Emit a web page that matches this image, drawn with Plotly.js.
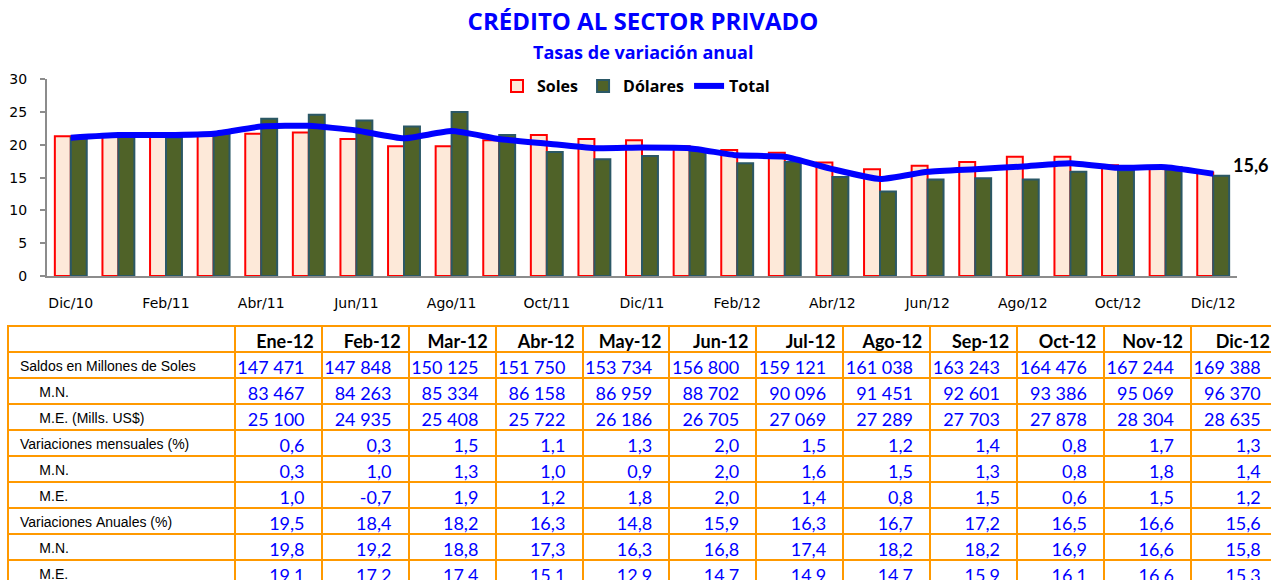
<!DOCTYPE html>
<html>
<head>
<meta charset="utf-8">
<script src="https://cdn.plot.ly/plotly-3.0.1.min.js"></script>
<style>
  html, body { margin: 0; padding: 0; overflow: hidden; background: #fff; }
  #chart { width: 1280px; height: 590px; }
</style>
</head>
<body>
<div id="chart"></div>
<script>
// ---- Chart data ----
const months = ['Dic/10','Ene/11','Feb/11','Mar/11','Abr/11','May/11','Jun/11','Jul/11','Ago/11','Sep/11','Oct/11','Nov/11','Dic/11',
                'Ene/12','Feb/12','Mar/12','Abr/12','May/12','Jun/12','Jul/12','Ago/12','Sep/12','Oct/12','Nov/12','Dic/12'];
const soles   = [21.3,21.3,21.3,21.4,21.7,21.9,20.9,19.8,19.8,20.7,21.5,20.9,20.7, 19.8,19.2,18.8,17.3,16.3,16.8,17.4,18.2,18.2,16.9,16.6,15.8];
const dolares = [21.1,21.6,21.1,21.9,24.0,24.6,23.7,22.8,25.0,21.5,18.9,17.8,18.3, 19.1,17.2,17.4,15.1,12.9,14.7,14.9,14.7,15.9,16.1,16.6,15.3];
const total   = [21.1,21.5,21.5,21.7,22.8,22.9,22.2,21.0,22.1,20.9,20.2,19.5,19.6, 19.5,18.4,18.2,16.3,14.8,15.9,16.3,16.7,17.2,16.5,16.6,15.6];
const lastLabel = '15,6';

// ---- Table data ----
const tableMonths = ['Ene-12','Feb-12','Mar-12','Abr-12','May-12','Jun-12','Jul-12','Ago-12','Sep-12','Oct-12','Nov-12','Dic-12'];
const rowLabels = ['Saldos en Millones de Soles','M.N.','M.E. (Mills. US$)','Variaciones mensuales (%)','M.N.','M.E.','Variaciones Anuales (%)','M.N.','M.E.'];
const saldos     = [147471,147848,150125,151750,153734,156800,159121,161038,163243,164476,167244,169388];
const saldosMN   = [83467,84263,85334,86158,86959,88702,90096,91451,92601,93386,95069,96370];
const saldosME   = [25100,24935,25408,25722,26186,26705,27069,27289,27703,27878,28304,28635];
const varMens    = [0.6,0.3,1.5,1.1,1.3,2.0,1.5,1.2,1.4,0.8,1.7,1.3];
const varMensMN  = [0.3,1.0,1.3,1.0,0.9,2.0,1.6,1.5,1.3,0.8,1.8,1.4];
const varMensME  = [1.0,-0.7,1.9,1.2,1.8,2.0,1.4,0.8,1.5,0.6,1.5,1.2];
const varAnual   = [19.5,18.4,18.2,16.3,14.8,15.9,16.3,16.7,17.2,16.5,16.6,15.6];
const varAnualMN = [19.8,19.2,18.8,17.3,16.3,16.8,17.4,18.2,18.2,16.9,16.6,15.8];
const varAnualME = [19.1,17.2,17.4,15.1,12.9,14.7,14.9,14.7,15.9,16.1,16.6,15.3];

// ---- helpers ----
const NB = '\u00a0';
const fmtInt = n => String(n).replace(/\B(?=(\d{3})+(?!\d))/g, NB);
const fmtPct = n => n.toFixed(1).replace('.', ',');
const W = 1280, H = 590;

const rowsData = [
  saldos.map(fmtInt), saldosMN.map(fmtInt), saldosME.map(fmtInt),
  varMens.map(fmtPct), varMensMN.map(fmtPct), varMensME.map(fmtPct),
  varAnual.map(fmtPct), varAnualMN.map(fmtPct), varAnualME.map(fmtPct)
];
const labelCol = rowLabels.map(l => (l.startsWith('M.') ? NB.repeat(6) : NB) + l.replace(/ /g, NB));
const cellValues = [labelCol].concat(tableMonths.map((m, j) => rowsData.map(r => r[j] + NB + NB)));

const gray = '#8c8c8c';
const tickBounds = [];
for (let i = 0; i < months.length - 1; i += 2) tickBounds.push(i - 0.5);

const titleFont = 'Open Sans, sans-serif';

const traces = [
  {
    type: 'bar', name: 'Soles', x: months, y: soles,
    marker: { color: '#fde9d9', line: { color: '#ff0000', width: 2 } },
    hoverinfo: 'skip'
  },
  {
    type: 'bar', name: 'Dólares', x: months, y: dolares,
    marker: { color: '#4f6228', line: { color: '#2b5866', width: 2 } },
    hoverinfo: 'skip'
  },
  {
    type: 'scatter', mode: 'lines', name: 'Total', x: months, y: total,
    line: { color: '#0000ff', width: 6, shape: 'spline', smoothing: 0.5 },
    hoverinfo: 'skip'
  },
  {
    type: 'table',
    domain: { x: [8 / W, 1278 / W], y: [0, (H - 326) / H] },
    columnwidth: [227].concat(tableMonths.map(() => 87)),
    header: {
      values: [''].concat(tableMonths),
      align: 'right',
      height: 26,
      fill: { color: '#ffffff' },
      line: { color: '#ff9900', width: 2 },
      font: { family: 'Lato, sans-serif', size: 18, color: '#000000', weight: 'bold' }
    },
    cells: {
      values: cellValues,
      align: ['left'].concat(tableMonths.map(() => 'right')),
      height: 26,
      fill: { color: '#ffffff' },
      line: { color: '#ff9900', width: 2 },
      font: {
        family: ['Liberation Sans, Arial, sans-serif'].concat(tableMonths.map(() => 'Lato, sans-serif')),
        size: [14].concat(tableMonths.map(() => 18)),
        color: ['#000000'].concat(tableMonths.map(() => '#0000ff'))
      }
    }
  }
];

const layout = {
  width: W, height: H,
  margin: { l: 0, r: 0, t: 0, b: 0 },
  paper_bgcolor: '#ffffff', plot_bgcolor: '#ffffff',
  showlegend: true,
  barmode: 'group', bargap: 0.33, bargroupgap: 0,
  title: {
    text: 'CRÉDITO AL SECTOR PRIVADO',
    x: 643 / W, xanchor: 'center', xref: 'paper',
    y: 1 - 22 / H, yanchor: 'middle', yref: 'container',
    font: { family: titleFont, size: 24, color: '#0000ff', weight: 'bold' }
  },
  annotations: [
    {
      text: 'Tasas de variación anual', xref: 'paper', yref: 'paper',
      x: 643 / W, y: 1 - 52 / H, xanchor: 'center', yanchor: 'middle', showarrow: false,
      font: { family: titleFont, size: 18, color: '#0000ff', weight: 'bold' }
    },
    {
      text: lastLabel, xref: 'x', yref: 'y', x: months[months.length - 1], y: total[total.length - 1],
      xanchor: 'left', yanchor: 'middle', xshift: 18, yshift: 9, showarrow: false,
      font: { family: 'Lato, sans-serif', size: 18, color: '#000000', weight: 'bold' }
    }
  ],
  legend: {
    orientation: 'h', x: 636 / W, xanchor: 'center', y: 1 - 86 / H, yanchor: 'middle',
    font: { family: titleFont, size: 16, color: '#000000', weight: 'bold' },
    bgcolor: 'rgba(0,0,0,0)', itemwidth: 30, tracegroupgap: 0
  },
  xaxis: {
    type: 'category', categoryorder: 'array', categoryarray: months,
    domain: [47 / W, 1237 / W], range: [-0.5, months.length - 0.5],
    dtick: 2, ticks: '', showgrid: false, zeroline: false,
    showline: true, linecolor: gray, linewidth: 2,
    ticklabelstandoff: 13,
    tickfont: { family: 'DejaVu Sans, sans-serif', size: 14, color: '#000000' },
    fixedrange: true
  },
  xaxis2: {
    overlaying: 'x', anchor: 'y', type: 'linear',
    range: [-0.5, months.length - 0.5],
    tickmode: 'array', tickvals: tickBounds, ticks: 'outside', ticklen: 5, tickwidth: 2, tickcolor: gray,
    showticklabels: false, showgrid: false, zeroline: false, showline: false, fixedrange: true
  },
  yaxis: {
    domain: [1 - 276 / H, 1 - 79.3 / H], range: [0, 30], dtick: 5,
    ticks: 'outside', ticklen: 5, tickwidth: 2, tickcolor: gray,
    showline: true, linecolor: gray, linewidth: 2, showgrid: false, zeroline: false,
    ticklabelstandoff: 10,
    tickfont: { family: 'DejaVu Sans, sans-serif', size: 14, color: '#000000' },
    fixedrange: true
  }
};

Plotly.newPlot('chart', traces, layout, { displayModeBar: false, staticPlot: true });
</script>
</body>
</html>
